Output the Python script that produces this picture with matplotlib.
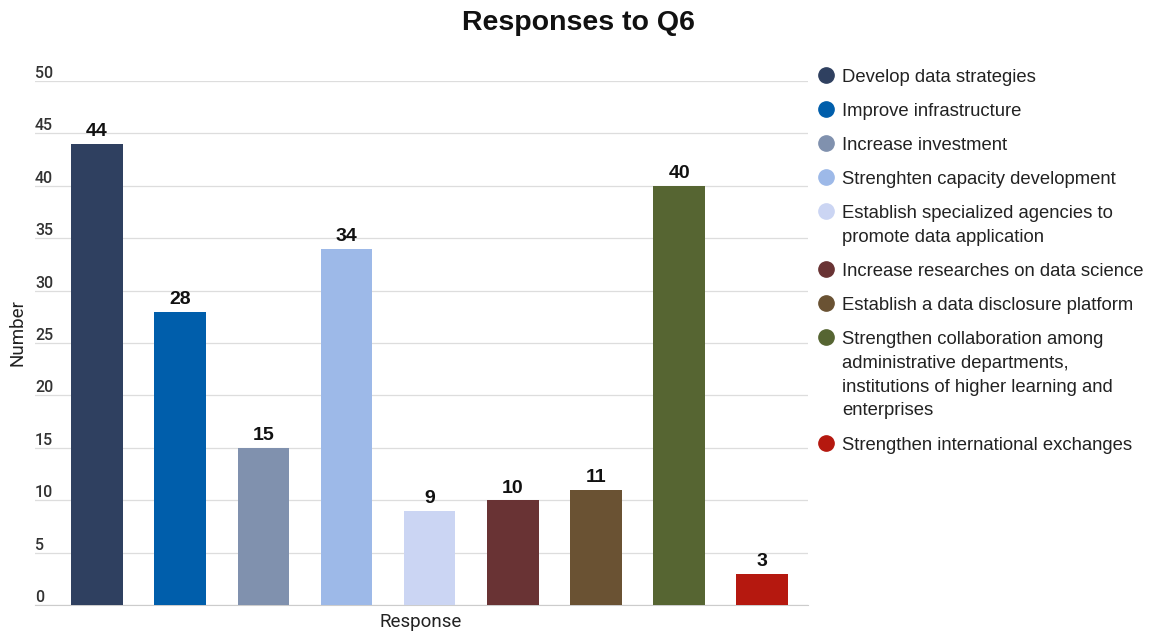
import matplotlib.pyplot as plt
from matplotlib.lines import Line2D
import matplotlib.transforms as mtransforms

plt.rcParams['font.family'] = ['Roboto', 'DejaVu Sans']
ARIAL = ['Liberation Sans', 'DejaVu Sans']

categories = ["Develop data strategies",
              "Improve infrastructure",
              "Increase investment",
              "Strenghten capacity development",
              "Establish specialized agencies to\npromote data application",
              "Increase researches on data science",
              "Establish a data disclosure platform",
              "Strengthen collaboration among\nadministrative departments,\ninstitutions of higher learning and\nenterprises",
              "Strengthen international exchanges"]
values = [44, 28, 15, 34, 9, 10, 11, 40, 3]
colors = ["#2f4060", "#005eab", "#8091ae", "#9db9e8", "#cbd5f3",
          "#693334", "#6a5233", "#566532", "#b5180f"]
yticks = [0, 5, 10, 15, 20, 25, 30, 35, 40, 45, 50]

W, H = 1156, 634
fig = plt.figure(figsize=(W / 100, H / 100), dpi=100)
ax = fig.add_axes([35 / W, (H - 605) / H, (808 - 35) / W, (605 - 81) / H])

x = list(range(len(values)))
ax.bar(x, values, width=0.62, color=colors, zorder=3)
ax.set_xlim(-0.745, 8.55)
ax.set_ylim(0, 50)

for xi, v in zip(x, values):
    ax.annotate(str(v), (xi, v), xytext=(0, 2.5), textcoords='offset points',
                ha='center', va='bottom', fontsize=14, fontweight='bold',
                color='#111111', family=ARIAL)

# gridlines with labels sitting above them
ax.set_yticks(yticks)
ax.set_yticklabels([])
ax.tick_params(left=False, bottom=False, labelbottom=False)
ax.grid(axis='y', color='#dddddd', linewidth=0.9, zorder=0)
trans = mtransforms.blended_transform_factory(ax.transAxes, ax.transData)
for t in yticks:
    ax.text(0.0, t, str(t), transform=trans, ha='left', va='bottom',
            fontsize=11.5, color='#333333', fontweight='medium')
for s in ['top', 'right', 'left']:
    ax.spines[s].set_visible(False)
ax.spines['bottom'].set_color('#cccccc')

fig.text(18 / W, 1 - 333 / H, "Number", rotation=90, ha='center', va='center',
         fontsize=13.5, color='#222222')
fig.text(421 / W, 1 - 622 / H, "Response", ha='center', va='center',
         fontsize=13.5, color='#222222')
fig.text(578 / W, 1 - 23 / H, "Responses to Q6", ha='center', va='center',
         fontsize=20.5, fontweight='bold', color='#111111', family=ARIAL)

# legend drawn by hand so the marker sits on the first line
y = 75
for lab, c in zip(categories, colors):
    n = lab.count('\n') + 1
    fig.add_artist(Line2D([826 / W], [1 - y / H], marker='o', markersize=11,
                          color=c, linestyle='none', transform=fig.transFigure))
    fig.text(842 / W, 1 - (y - 6) / H, lab, ha='left', va='top', fontsize=13.3,
             color='#222222', linespacing=1.52, family=ARIAL)
    y += n * 24 + 10

fig.savefig('out.png', dpi=100)
